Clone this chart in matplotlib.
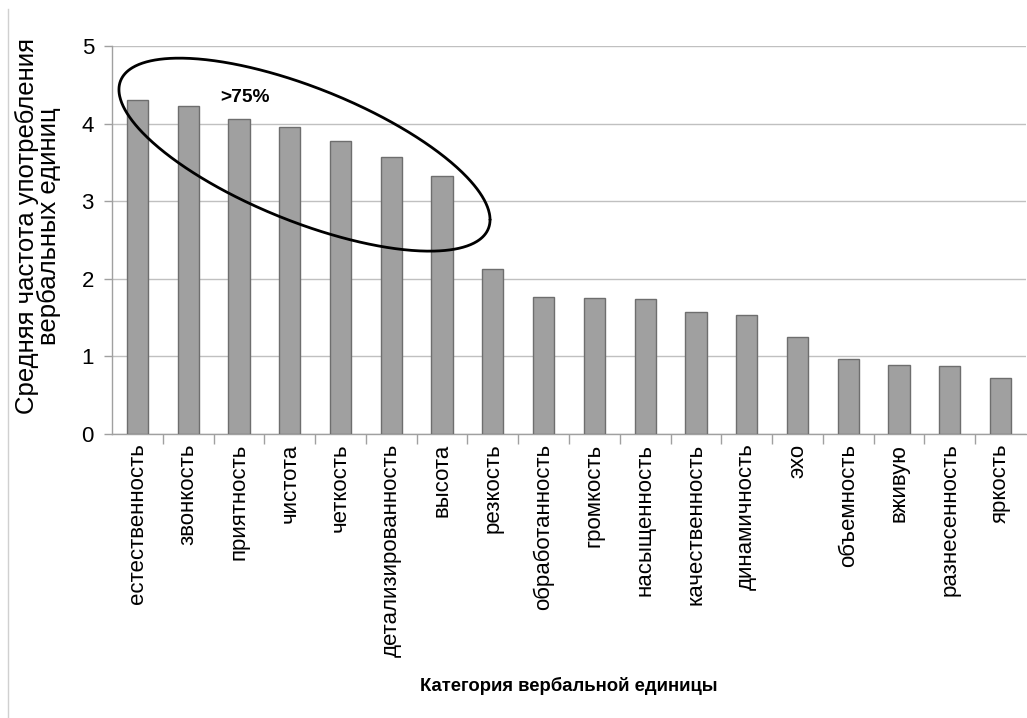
import numpy as np
import matplotlib
matplotlib.use("Agg")
import matplotlib.pyplot as plt
from matplotlib.lines import Line2D

categories = ["естественность", "звонкость", "приятность", "чистота", "четкость",
              "детализированность", "высота", "резкость", "обработанность", "громкость",
              "насыщенность", "качественность", "динамичность", "эхо", "объемность",
              "вживую", "разнесенность", "яркость"]
values = [4.30, 4.23, 4.06, 3.96, 3.77, 3.57, 3.33, 2.13, 1.77, 1.75,
          1.74, 1.57, 1.53, 1.25, 0.97, 0.89, 0.88, 0.72]
yticks = [0, 1, 2, 3, 4, 5]
annotation = ">75%"

plt.rcParams['font.family'] = ['Liberation Sans', 'DejaVu Sans']

fig = plt.figure(figsize=(10.27, 7.18), dpi=100)
ax = fig.add_axes([112/1027, (718-434)/718, (1026-112)/1027, (434-46)/718])

x = np.arange(len(categories))
ax.bar(x, values, width=0.42, color="#a0a0a0", edgecolor="#6e6e6e", linewidth=1, zorder=3)

ax.set_xlim(-0.5, len(categories) - 0.5)
ax.set_ylim(0, 5)
ax.set_yticks(yticks)
ax.set_yticklabels([str(t) for t in yticks], fontsize=16)
ax.yaxis.grid(True, color="#c0c0c0", linewidth=1, zorder=0)
ax.set_axisbelow(True)

ax.set_xticks(x)
ax.set_xticklabels(categories, rotation=90, fontsize=16, va="top", ha="center")
ax.tick_params(axis="x", which="major", length=0, pad=7)
ax.set_xticks(np.arange(0.5, len(categories) - 0.5, 1), minor=True)
ax.tick_params(axis="x", which="minor", length=7, color="#a0a0a0", width=1)
ax.tick_params(axis="y", length=6, color="#a0a0a0", width=1, pad=7)

for s in ["top", "right"]:
    ax.spines[s].set_visible(False)
for s in ["left", "bottom"]:
    ax.spines[s].set_color("#a0a0a0")
    ax.spines[s].set_linewidth(1)

ax.set_ylabel("Средняя частота употребления\nвербальных единиц", fontsize=18.5,
              linespacing=0.9)
ax.yaxis.set_label_coords(-0.056, 0.536)
ax.set_xlabel("Категория вербальной единицы", fontsize=13.3, fontweight="bold")
ax.xaxis.set_label_coords(0.5, -0.625)

# ellipse around the first seven bars (axes-fraction coordinates)
t = np.linspace(0, 2*np.pi, 600)
cx, cy, W, H, phi = 0.2106, 0.720, 0.203, 0.2487, np.arccos(0.674)
ex = cx + W*np.cos(t)
ey = cy - H*np.cos(t - phi)
ax.plot(ex, ey, color="black", linewidth=2, transform=ax.transAxes, clip_on=False, zorder=5,
        solid_capstyle="round", solid_joinstyle="round")

ax.text(2.12, 4.34, annotation, fontsize=13.8, fontweight="bold", ha="center", va="center", zorder=6)

# left border line
fig.add_artist(Line2D([7.5/1027, 7.5/1027], [0, 1 - 9/718], color="#d0d0d0", linewidth=1,
                      transform=fig.transFigure))

fig.savefig("out.png", dpi=100)
